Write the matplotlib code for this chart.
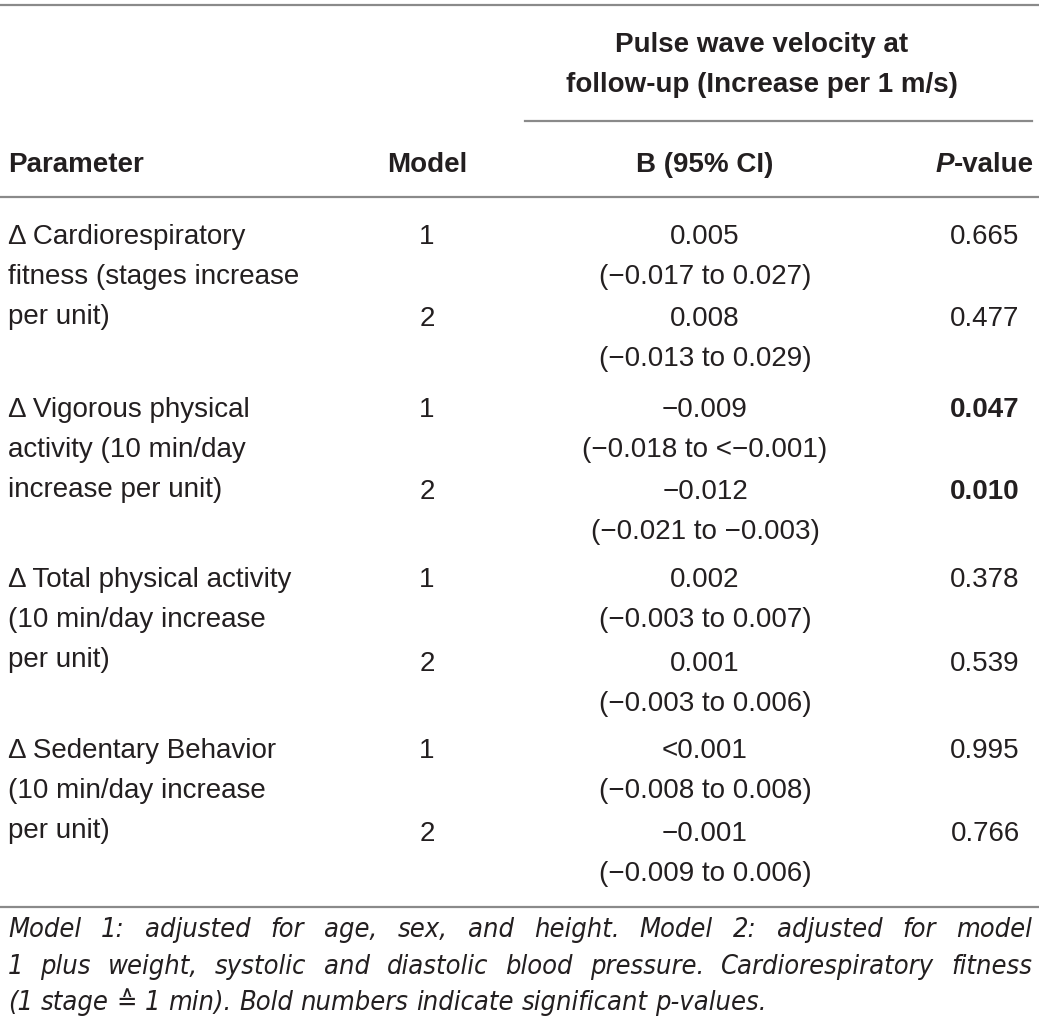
import matplotlib
matplotlib.use("Agg")
import matplotlib.pyplot as plt
from matplotlib import font_manager

# ---------------- table content ----------------
header_group = ["Pulse wave velocity at", "follow-up (Increase per 1 m/s)"]
col_heads = ["Parameter", "Model", "B (95% CI)", "P-value"]

params = [
    ["\u0394 Cardiorespiratory", "fitness (stages increase", "per unit)"],
    ["\u0394 Vigorous physical", "activity (10 min/day", "increase per unit)"],
    ["\u0394 Total physical activity", "(10 min/day increase", "per unit)"],
    ["\u0394 Sedentary Behavior", "(10 min/day increase", "per unit)"],
]
models = ["1", "2"]
b_est = [["0.005", "0.008"],
         ["\u22120.009", "\u22120.012"],
         ["0.002", "0.001"],
         ["<0.001", "\u22120.001"]]
b_ci = [["(\u22120.017 to 0.027)", "(\u22120.013 to 0.029)"],
        ["(\u22120.018 to <\u22120.001)", "(\u22120.021 to \u22120.003)"],
        ["(\u22120.003 to 0.007)", "(\u22120.003 to 0.006)"],
        ["(\u22120.008 to 0.008)", "(\u22120.009 to 0.006)"]]
p_vals = [["0.665", "0.477"],
          ["0.047", "0.010"],
          ["0.378", "0.539"],
          ["0.995", "0.766"]]
p_sig = [[False, False], [True, True], [False, False], [False, False]]

footnote_lines = [
    "Model 1: adjusted for age, sex, and height. Model 2: adjusted for model",
    "1 plus weight, systolic and diastolic blood pressure. Cardiorespiratory fitness",
    "(1 stage \u2259 1 min). Bold numbers indicate significant p-values.",
]

# ---------------- layout ----------------
W, H = 1039, 1031
FONT = ["Liberation Sans", "DejaVu Sans"]
TXT = "#231f20"
LINE = "#8a8a8a"
FS = 20
FS_HEAD = 20

# look for a narrow face for the footnote
NOTE_FONT, NOTE_STRETCH = FONT, "normal"
names = {(f.name, f.stretch) for f in font_manager.fontManager.ttflist}
if any(n == "Liberation Sans Narrow" for n, _ in names):
    NOTE_FONT = ["Liberation Sans Narrow", "DejaVu Sans"]
elif any(n == "DejaVu Sans" and s == "condensed" for n, s in names):
    NOTE_FONT, NOTE_STRETCH = ["DejaVu Sans"], "condensed"

x_par, x_mod, x_b, x_p = 8, 427, 705, 985
group_base = [244, 417, 587, 758]
model2_off = [82, 82, 84, 83]
lh = 40

fig = plt.figure(figsize=(W / 100, H / 100), dpi=100)
ax = fig.add_axes([0, 0, 1, 1])
ax.set_xlim(0, W)
ax.set_ylim(H, 0)
ax.axis("off")


def txt(x, y, s, ha="center", weight="normal", style="normal", size=FS,
        family=FONT, stretch="normal"):
    return ax.text(x, y, s, ha=ha, va="baseline", fontsize=size, color=TXT,
                   family=family, fontweight=weight, fontstyle=style,
                   fontstretch=stretch)


fig.canvas.draw()
r = fig.canvas.get_renderer()


def width(s, size, family, weight="normal", style="normal", stretch="normal"):
    t = ax.text(0, 0, s, fontsize=size, family=family, fontweight=weight,
                fontstyle=style, fontstretch=stretch)
    w = t.get_window_extent(r).width
    t.remove()
    return w


# rules
ax.plot([0, W], [5, 5], color=LINE, lw=1.6)
ax.plot([525, 1032], [121, 121], color=LINE, lw=1.6)
ax.plot([0, W], [197, 197], color=LINE, lw=1.6)
ax.plot([0, W], [907, 907], color=LINE, lw=1.6)

# header
txt(762, 52, header_group[0], weight="bold", size=FS_HEAD)
txt(762, 92, header_group[1], weight="bold", size=FS_HEAD)
txt(x_par, 172, col_heads[0], ha="left", weight="bold", size=FS_HEAD)
txt(x_mod, 172, col_heads[1], weight="bold", size=FS_HEAD)
txt(x_b, 172, col_heads[2], weight="bold", size=FS_HEAD)
w1 = width("P", FS_HEAD, FONT, "bold", "italic")
w2 = width("-value", FS_HEAD, FONT, "bold")
x0 = x_p - (w1 + w2) / 2
txt(x0, 172, "P", ha="left", weight="bold", style="italic", size=FS_HEAD)
txt(x0 + w1, 172, "-value", ha="left", weight="bold", size=FS_HEAD)

# body rows
for g in range(len(params)):
    yb = group_base[g]
    for k, line in enumerate(params[g]):
        txt(x_par, yb + k * lh, line, ha="left")
    for m in range(2):
        ym = yb + m * model2_off[g]
        txt(x_mod, ym, models[m])
        txt(x_b, ym, b_est[g][m])
        txt(x_b, ym + lh, b_ci[g][m])
        txt(x_p, ym, p_vals[g][m], weight="bold" if p_sig[g][m] else "normal")

# footnote: pick a size so the last line is about as wide as in the
# reference, but the longest line still fits
left, right = 8, 1032
ref_size = 16
nat = [width(l, ref_size, NOTE_FONT, style="italic", stretch=NOTE_STRETCH)
       for l in footnote_lines]
fs_note = min(ref_size * 762 / nat[2], ref_size * 1012 / max(nat))
note_base = [937, 974, 1010]
sp_w = (width("a a", fs_note, NOTE_FONT, style="italic", stretch=NOTE_STRETCH)
        - width("aa", fs_note, NOTE_FONT, style="italic", stretch=NOTE_STRETCH))
for li, line in enumerate(footnote_lines):
    words = line.split(" ")
    ws = [width(wd, fs_note, NOTE_FONT, style="italic", stretch=NOTE_STRETCH)
          for wd in words]
    if li < len(footnote_lines) - 1:
        gap = (right - left - sum(ws)) / (len(words) - 1)
    else:
        gap = sp_w
    x = left
    for wd, w in zip(words, ws):
        txt(x, note_base[li], wd, ha="left", style="italic", size=fs_note,
            family=NOTE_FONT, stretch=NOTE_STRETCH)
        x += w + gap

fig.savefig("out.png", dpi=100)
